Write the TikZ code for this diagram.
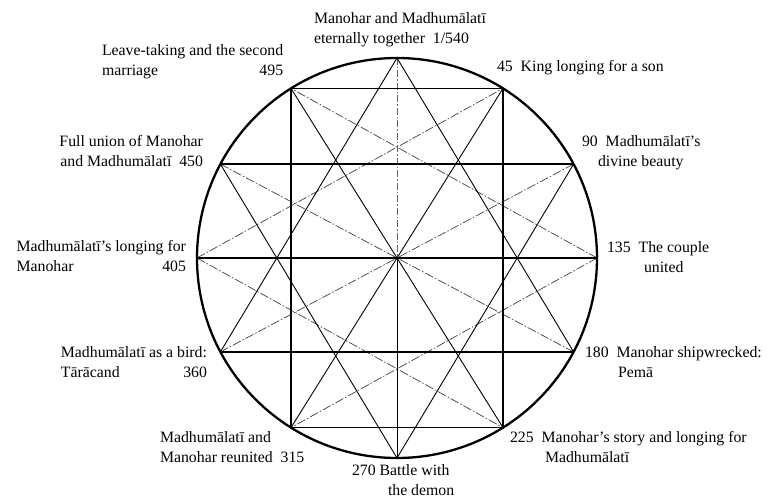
\documentclass[tikz,border=0pt]{standalone}
\usepackage{fontspec}
\setmainfont{Liberation Serif}
\newcommand{\mylbl}[2][l]{\begin{tabular}[t]{@{}#1@{}}#2\end{tabular}}
\begin{document}
\begin{tikzpicture}[x=1pt,y=-1pt,
  lab/.style={inner sep=0pt, outer sep=0pt, font=\fontsize{15.8}{20}\selectfont},
  ring/.style={line width=2.3pt},
  frame/.style={line width=1.7pt},
  starline/.style={line width=0.9pt},
  dashline/.style={line width=0.7pt, black!75, dash pattern=on 9pt off 2pt on 1.5pt off 2pt},
  axisline/.style={line width=0.6pt, black!60, dash pattern=on 7pt off 2pt on 1.5pt off 2pt},
  lowaxis/.style={line width=0.8pt}]
\useasboundingbox (0,0) rectangle (768,502);
\coordinate (C) at (397,258);
\coordinate (p0) at (397,58);
\coordinate (p1) at (503,88.4);
\coordinate (p2) at (573.6,164.1);
\coordinate (p3) at (597,258);
\coordinate (p4) at (573.6,351.9);
\coordinate (p5) at (503,427.6);
\coordinate (p6) at (397,458);
\coordinate (p7) at (291,427.6);
\coordinate (p8) at (220.4,351.9);
\coordinate (p9) at (197,258);
\coordinate (p10) at (220.4,164.1);
\coordinate (p11) at (291,88.4);
% dashed lines
\draw[dashline] (p9) -- (p1);
\draw[dashline] (p9) -- (p5);
\draw[dashline] (p3) -- (p11);
\draw[dashline] (p3) -- (p7);
\draw[dashline] (p10) -- (p4);
\draw[dashline] (p2) -- (p8);
\draw[axisline] (p0) -- (C);
\draw[lowaxis] (C) -- (p6);
% solid star lines
\draw[starline] (p0) -- (p8);
\draw[starline] (p0) -- (p4);
\draw[starline] (p6) -- (p10);
\draw[starline] (p6) -- (p2);
\draw[starline] (p11) -- (p5);
\draw[starline] (p1) -- (p7);
% frame
\draw[frame] (p11) -- (p1) -- (p5) -- (p7) -- cycle;
\draw[frame] (p10) -- (p2);
\draw[frame] (p9) -- (p3);
\draw[frame] (p8) -- (p4);
\draw[ring] (C) circle[radius=200pt];
% labels
\node[lab, anchor=base west] (l0) at (314,24) {\mylbl{Manohar and Madhumālatī\\eternally together\enspace 1/540}};
\node[lab, anchor=base west] (l45) at (497,72) {45\enspace King longing for a son};
\node[lab, anchor=base west] (l90) at (582,147) {\mylbl{90\enspace Madhumālatī's\\\hspace*{16pt}divine beauty}};
\node[lab, anchor=base west] (l135) at (607,253) {\mylbl{135\enspace The couple\\\hspace*{37pt}united}};
\node[lab, anchor=base west] (l180) at (585,358) {\mylbl{180\enspace Manohar shipwrecked:\\\hspace*{33pt}Pemā}};
\node[lab, anchor=base west] (l225) at (510,442) {\mylbl{225\enspace Manohar's story and longing for\\\hspace*{35pt}Madhumālatī}};
\node[lab, anchor=base west] (l270) at (352,475) {\mylbl{270 Battle with\\\hspace*{36pt}the demon}};
\node[lab, anchor=base west] (l315) at (160,442) {\mylbl{Madhumālatī and\\Manohar reunited\enspace 315}};
\node[lab, anchor=base east] (l360) at (207,358) {\mylbl{Madhumālatī as a bird:\\Tārācand\hfill 360}};
\node[lab, anchor=base east] (l405) at (186,252) {\mylbl{Madhumālatī's longing for\\Manohar\hfill 405}};
\node[lab, anchor=base east] (l450) at (203,147) {\mylbl[r]{Full union of Manohar\\and Madhumālatī\enspace 450}};
\node[lab, anchor=base west] (l495) at (102,56) {\mylbl{Leave-taking and the second\\marriage\hfill 495}};
\end{tikzpicture}
\end{document}
